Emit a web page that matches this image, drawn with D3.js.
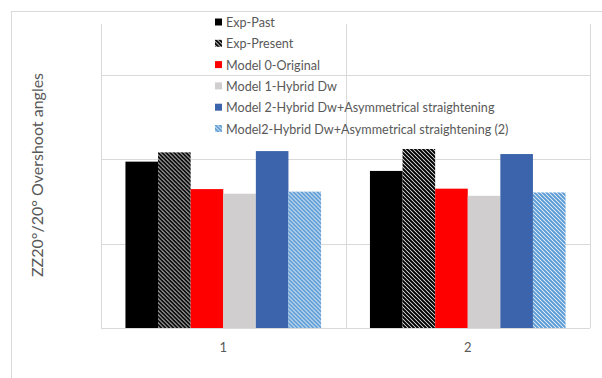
<!DOCTYPE html>
<html>
<head>
<meta charset="utf-8">
<script src="https://cdn.jsdelivr.net/npm/d3@7"></script>
<style>
  html, body { margin: 0; padding: 0; background: #fff; }
  svg { display: block; }
</style>
</head>
<body>
<svg id="chart" width="602" height="378"></svg>
<script>
// Groups along the x axis
const categories = ["1", "2"];

// Series names (legend order)
const seriesNames = [
  "Exp-Past",
  "Exp-Present",
  "Model 0-Original",
  "Model 1-Hybrid Dw",
  "Model 2-Hybrid Dw+Asymmetrical straightening",
  "Model2-Hybrid Dw+Asymmetrical straightening (2)"
];

// Values per series, one per category
const expPast      = [1.97, 1.86];
const expPresent   = [2.08, 2.12];
const model0       = [1.645, 1.65];
const model1       = [1.59, 1.565];
const model2       = [2.095, 2.06];
const model2b      = [1.615, 1.605];

// Gridline values
const yTicks = [0, 1, 2, 3];
const yMax = 3.6;

const seriesValues = [expPast, expPresent, model0, model1, model2, model2b];

const FONT = "Lato, 'Open Sans', sans-serif";

const svg = d3.select("#chart");
const defs = svg.append("defs");

// Diagonal hatch patterns
function hatch(id, color) {
  const p = defs.append("pattern")
    .attr("id", id)
    .attr("patternUnits", "userSpaceOnUse")
    .attr("width", 4).attr("height", 4);
  p.append("rect").attr("width", 4).attr("height", 4).attr("fill", "#fff");
  p.append("path")
    .attr("d", "M-1,-1 L5,5 M-1,3 L1,5 M3,-1 L5,1")
    .attr("stroke", color)
    .attr("stroke-width", 2);
}
hatch("hatchBlack", "#000");
hatch("hatchBlue", "#5b9bd5");

const fills = ["#000000", "url(#hatchBlack)", "#ff0000", "#d0cece", "#3b64ad", "url(#hatchBlue)"];

// Chart area border
svg.append("rect")
  .attr("x", 11.5).attr("y", 11.5)
  .attr("width", 620).attr("height", 400)
  .attr("fill", "none").attr("stroke", "#d9d9d9").attr("stroke-width", 1);

const plot = { left: 101, right: 590, top: 24, bottom: 328 };

const x0 = d3.scaleBand().domain(categories).range([plot.left, plot.right]).paddingInner(0).paddingOuter(0);
const y = d3.scaleLinear().domain([0, yMax]).range([plot.bottom, plot.top]);

// Horizontal gridlines
svg.append("g").selectAll("line").data(yTicks).join("line")
  .attr("x1", plot.left).attr("x2", plot.right)
  .attr("y1", d => Math.round(y(d)) + 0.5).attr("y2", d => Math.round(y(d)) + 0.5)
  .attr("stroke", "#d9d9d9").attr("stroke-width", 1);

// Vertical category boundaries
const bounds = categories.map(c => x0(c)).concat([plot.right]);
svg.append("g").selectAll("line").data(bounds).join("line")
  .attr("x1", d => Math.round(d) + 0.5).attr("x2", d => Math.round(d) + 0.5)
  .attr("y1", plot.top).attr("y2", plot.bottom)
  .attr("stroke", "#d9d9d9").attr("stroke-width", 1);

// Bars: gap width 150% of a bar
const nSeries = seriesNames.length;
const barW = x0.bandwidth() / (nSeries + 1.5);
const groupW = barW * nSeries;

const groups = svg.append("g").selectAll("g").data(categories).join("g")
  .attr("transform", c => `translate(${x0(c) + (x0.bandwidth() - groupW) / 2},0)`);

groups.selectAll("rect")
  .data((c, ci) => seriesValues.map((vals, si) => ({ si, v: vals[ci] })))
  .join("rect")
  .attr("x", d => d.si * barW)
  .attr("width", barW)
  .attr("y", d => y(d.v))
  .attr("height", d => y(0) - y(d.v))
  .attr("fill", d => fills[d.si]);

// X axis labels
svg.append("g").selectAll("text").data(categories).join("text")
  .attr("x", c => x0(c) + x0.bandwidth() / 2)
  .attr("y", 352)
  .attr("text-anchor", "middle")
  .attr("font-family", FONT)
  .attr("font-size", 13)
  .attr("fill", "#595959")
  .text(c => c);

// Y axis title
svg.append("text")
  .attr("transform", "translate(43,175) rotate(-90)")
  .attr("text-anchor", "middle")
  .attr("font-family", FONT)
  .attr("font-size", 16)
  .attr("fill", "#595959")
  .text("ZZ20°/20° Overshoot angles");

// Legend
const legend = svg.append("g").attr("transform", "translate(215,22)");
const items = legend.selectAll("g").data(seriesNames).join("g")
  .attr("transform", (d, i) => `translate(0,${i * 21.3})`);
items.append("rect")
  .attr("x", 0).attr("y", -3.5).attr("width", 7).attr("height", 7)
  .attr("fill", (d, i) => fills[i]);
items.append("text")
  .attr("x", 11).attr("y", 5)
  .attr("font-family", FONT)
  .attr("font-size", 12.6)
  .attr("fill", "#595959")
  .text(d => d);
</script>
</body>
</html>
